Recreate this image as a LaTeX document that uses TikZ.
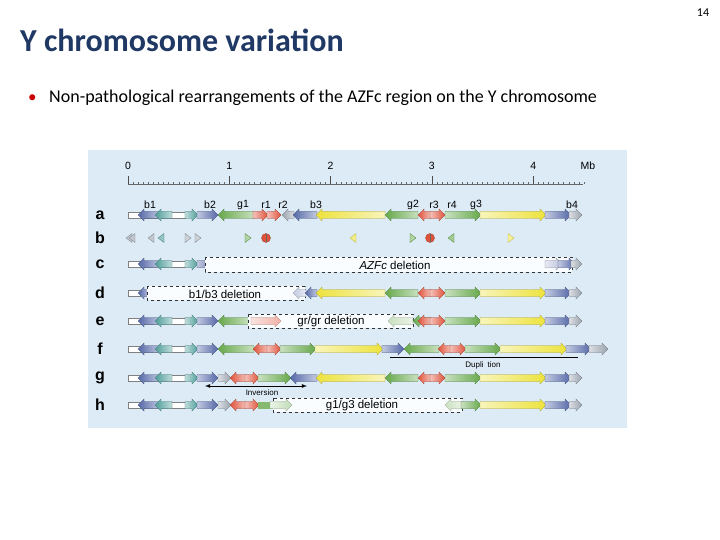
\documentclass[tikz,border=0pt]{standalone}
\usepackage{fontspec}
\setmainfont{Carlito}
\newfontfamily\figfont{Liberation Sans}
\begin{document}
\begin{tikzpicture}[x=1pt,y=-1pt,
  lbl/.style={font=\figfont\fontsize{10.5}{10.5}\selectfont,inner sep=0pt},
  dlbl/.style={font=\figfont\fontsize{11.5}{11.5}\selectfont,inner sep=0pt},
  rowl/.style={font=\figfont\bfseries\fontsize{16}{16}\selectfont,inner sep=0pt},
  delbox/.style={draw=black!80,dashed,fill=white!70!cyan!8,thin}]
\definecolor{bgc}{HTML}{DDEBF6}
\definecolor{cB}{HTML}{5568A8}
\definecolor{cT}{HTML}{4E9E9A}
\definecolor{cG}{HTML}{66A84A}
\definecolor{cR}{HTML}{E0523A}
\definecolor{cY}{HTML}{EDE23C}
\definecolor{cS}{HTML}{9AA3AE}
\definecolor{navy}{HTML}{1F3864}
\useasboundingbox (0,0) rectangle (720,540);
\newcommand\rA[4]{\path[left color=#4!35!white,right color=#4,draw=#4!70!black,line width=0.3pt]
 (#1,#3-3.5) -- (#2-6,#3-3.5) -- (#2-6,#3-6) -- (#2,#3) -- (#2-6,#3+6) -- (#2-6,#3+3.5) -- (#1,#3+3.5) -- cycle;}
\newcommand\lA[4]{\path[right color=#4!35!white,left color=#4,draw=#4!70!black,line width=0.3pt]
 (#2,#3-3.5) -- (#1+6,#3-3.5) -- (#1+6,#3-6) -- (#1,#3) -- (#1+6,#3+6) -- (#1+6,#3+3.5) -- (#2,#3+3.5) -- cycle;}
\newcommand\wB[3]{\path[fill=white,draw=black!50,line width=0.3pt] (#1,#3-3) rectangle (#2,#3+3);}
\newcommand\stdstart[1]{\wB{128}{185}{#1}\lA{138}{160}{#1}{cB}\lA{155}{172}{#1}{cT}\rA{185}{198}{#1}{cT}\rA{197}{218}{#1}{cB}}
\newcommand\tailA[1]{\lA{316}{385}{#1}{cY}\lA{385}{418}{#1}{cG}\lA{418}{431}{#1}{cR}\rA{430}{445}{#1}{cR}\rA{445}{481}{#1}{cG}\rA{480}{546}{#1}{cY}\rA{545}{571}{#1}{cB}\rA{569}{582}{#1}{cS}}
% header
\node[anchor=base west,inner sep=0pt,text=navy,font=\bfseries\fontsize{32}{34}\selectfont] (title) at (20,52) {Y chromosome variation};
\node[anchor=base west,inner sep=0pt,text=red!80!black,font=\fontsize{17}{18}\selectfont] (bul) at (28,103) {•};
\node[anchor=base west,inner sep=0pt,font=\fontsize{18}{18}\selectfont] (txt) at (49,103) {Non-pathological rearrangements of the AZFc region on the Y chromosome};
\node[anchor=base,inner sep=0pt,font=\fontsize{12}{12}\selectfont] (pg) at (703,17) {14};
\fill[bgc] (88,150) rectangle (627,428);
% ruler
\draw[black!60,line width=0.4pt] (128,184) -- (583,184);
\foreach \i in {0,...,90}{\draw[black!60,line width=0.3pt] ({128+101.3*\i/20},184) -- ({128+101.3*\i/20},182);}
\foreach \i in {0,...,4}{\draw[black!70,line width=0.5pt] ({128+101.3*\i},184) -- ({128+101.3*\i},176);
  \node[lbl] (n\i) at ({128+101.3*\i},166) {\i};}
\node[lbl] (mb) at (588,166) {Mb};
\foreach \l/\y in {a/215,b/238,c/264,d/293,e/321,f/349,g/378,h/405}{\node[rowl] (r\l) at (100,\y) {\l};}
% row a
\stdstart{215}
\lA{218}{254}{215}{cG}\rA{253}{268}{215}{cR}\rA{267}{281}{215}{cR}\lA{282}{294}{215}{cS}\lA{293}{317}{215}{cB}
\tailA{215}
\foreach \t/\x in {b1/150,b2/210,g1/243,r1/266,r2/283,b3/316,g2/413,r3/434,r4/452,g3/476,b4/572}{\node[lbl] (l\t) at (\x,205) {\t};}
% row b
\newcommand\tl[2]{\path[fill=#2!60!white,draw=#2!80!black,line width=0.3pt] (#1-3,238) -- (#1+3,233.5) -- (#1+3,242.5) -- cycle;}
\newcommand\tr[2]{\path[fill=#2!50!white,draw=#2!80!black,line width=0.3pt] (#1+3,238) -- (#1-3,233.5) -- (#1-3,242.5) -- cycle;}
\tl{129}{cS}\tl{132}{cS}\tl{151}{cS}\tl{161}{cT}\tr{188}{cS}\tr{198}{cS}\tr{248}{cG}\tl{353}{cY}\tr{413}{cG}\tl{451}{cG}\tr{511}{cY}
\foreach \x in {266,430}{\path[fill=cR,draw=cR!70!black,line width=0.3pt] (\x,238) circle (4.5);\draw[black!60,line width=0.4pt] (\x,234) -- (\x,242);}
% row c
\stdstart{264}\rA{205}{219}{264}{cB!40!white}
\draw[delbox] (205,257) rectangle (572,272);
\node[dlbl] (dc) at (395,265) {\textit{AZFc} deletion};
\rA{545}{562}{264}{cB!40!white}\rA{558}{575}{264}{cB}\rA{571}{582}{264}{cS}
% row d
\wB{128}{140}{293}\lA{138}{150}{293}{cB}
\draw[delbox] (147,286) rectangle (305,300);
\node[dlbl] (dd) at (225,294) {b1/b3 deletion};
\lA{293}{306}{293}{cB!35!white}\lA{305}{317}{293}{cB}
\tailA{293}
% row e
\stdstart{321}\lA{218}{249}{321}{cG}
\draw[delbox] (248,314) rectangle (413,328);
\rA{251}{281}{321}{cR!45!white}
\lA{388}{413}{321}{cG!35!white}
\node[dlbl] (de) at (331,322) {gr/gr deletion};
\lA{413}{431}{321}{cG}\lA{418}{431}{321}{cR}\rA{430}{445}{321}{cR}\rA{445}{481}{321}{cG}\rA{480}{546}{321}{cY}\rA{545}{571}{321}{cB}\rA{569}{582}{321}{cS}
% row f
\stdstart{349}
\lA{218}{254}{349}{cG}\lA{253}{268}{349}{cR}\rA{267}{281}{349}{cR}\rA{280}{316}{349}{cG}\rA{315}{383}{349}{cY}\rA{382}{404}{349}{cB}
\lA{404}{439}{349}{cG}\lA{438}{451}{349}{cR}\rA{450}{466}{349}{cR}\rA{465}{501}{349}{cG}\rA{500}{567}{349}{cY}\rA{566}{591}{349}{cB}\rA{589}{608}{349}{cS}
\coordinate (du1) at (390,357); \coordinate (du2) at (578,357);
\draw[black,line width=0.8pt] (du1) -- (du2);
\node[lbl,font=\figfont\fontsize{8}{8}\selectfont] (dup) at (483,365) {Dupli\hspace{4pt}tion};
% row g
\stdstart{378}
\rA{218}{231}{378}{cS}\lA{230}{246}{378}{cR}\rA{245}{259}{378}{cR}\rA{258}{291}{378}{cG}\lA{290}{317}{378}{cB}
\tailA{378}
\coordinate (iv1) at (205,386); \coordinate (iv2) at (307,386);
\draw[black,line width=0.8pt,<->,>=latex] (iv1) -- (iv2);
\node[lbl,font=\figfont\fontsize{8}{8}\selectfont] (inv) at (262,393) {Inversion};
% row h
\stdstart{405}
\rA{218}{231}{405}{cS}\lA{230}{246}{405}{cR}\rA{245}{259}{405}{cR}\path[fill=cG!80!white] (258,401.5) rectangle (274,408.5);
\draw[delbox] (273,398) rectangle (462,412);
\rA{270}{292}{405}{cG!40!white}
\lA{445}{463}{405}{cG!35!white}
\node[dlbl] (dh) at (362,406) {g1/g3 deletion};
\rA{461}{481}{405}{cG}\rA{480}{546}{405}{cY}\rA{545}{571}{405}{cB}\rA{569}{582}{405}{cS}
\end{tikzpicture}
\end{document}
